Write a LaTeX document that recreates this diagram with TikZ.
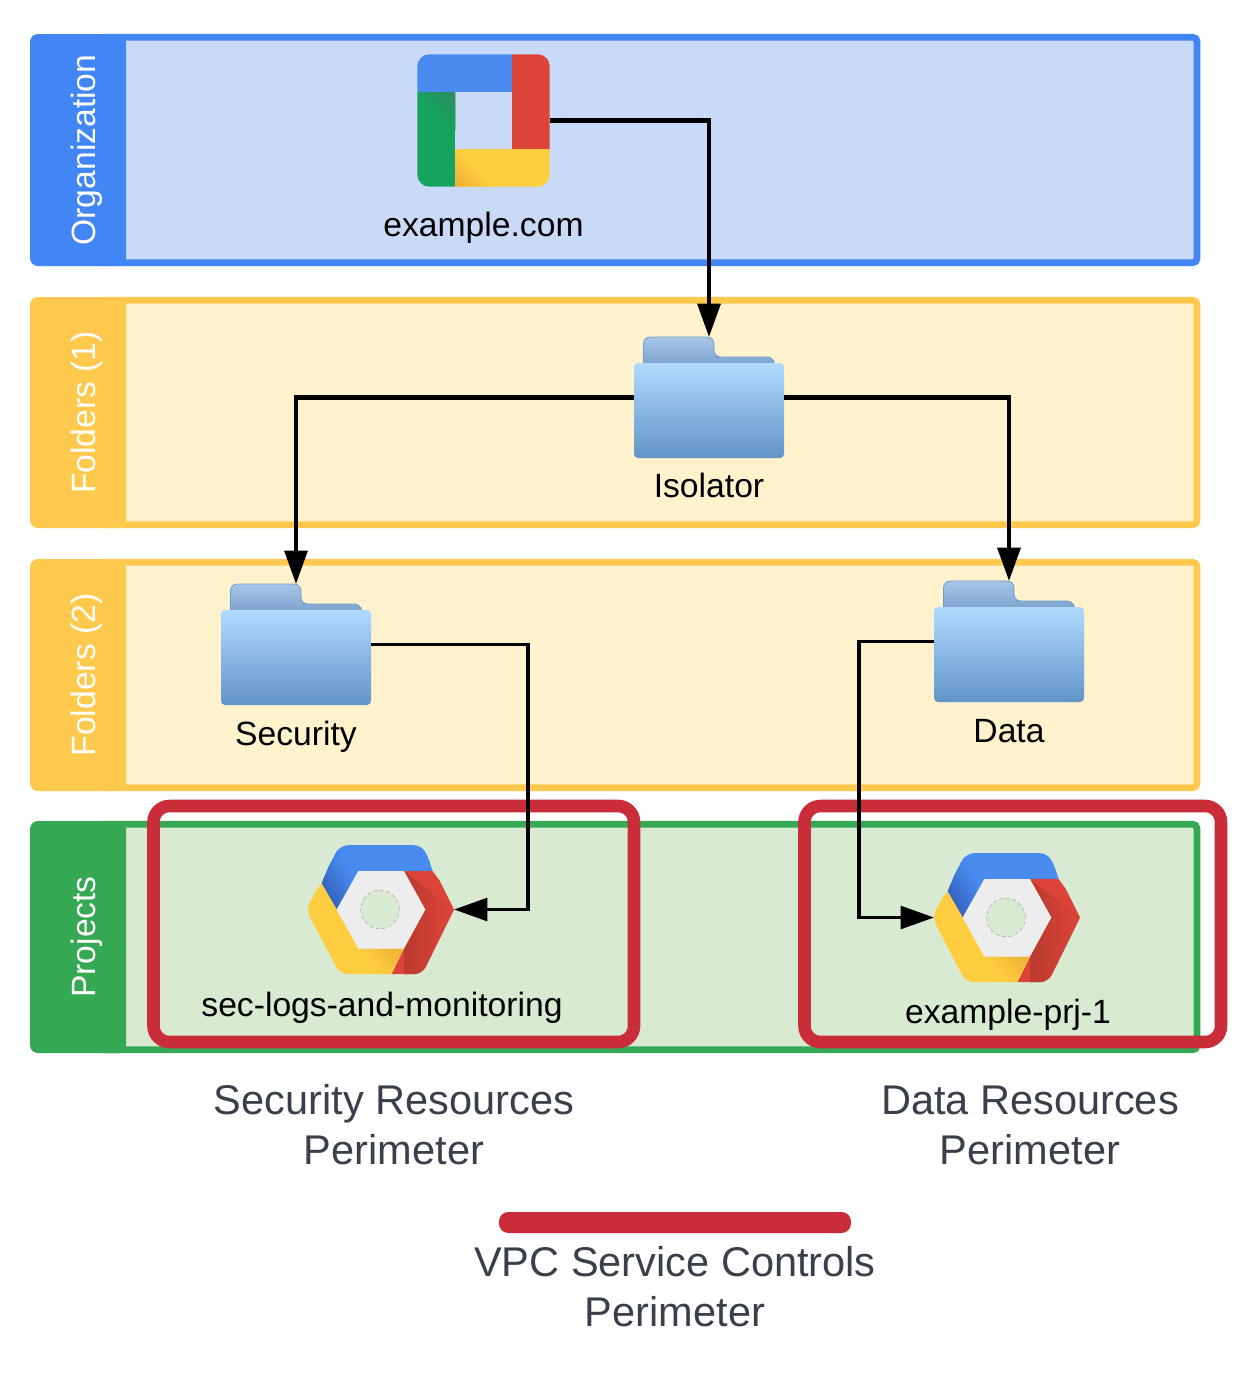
\documentclass[tikz,border=0pt]{standalone}
\usepackage{fontspec}
\setmainfont{Liberation Sans}
\usetikzlibrary{arrows.meta}
\definecolor{gblue}{HTML}{4285F4}
\definecolor{gblue2}{HTML}{4A8BF0}
\definecolor{gblued}{HTML}{3566C4}
\definecolor{gyellow}{HTML}{FFC94D}
\definecolor{ggreen}{HTML}{34A853}
\definecolor{fblue}{HTML}{C9DAF8}
\definecolor{fyellow}{HTML}{FFF2CC}
\definecolor{fgreen}{HTML}{D9EAD3}
\definecolor{perim}{HTML}{C92D39}
\definecolor{captioncol}{HTML}{3A404B}
\definecolor{ired}{HTML}{DC4437}
\definecolor{iredd}{HTML}{BC3B30}
\definecolor{igreen}{HTML}{16A25F}
\definecolor{igreend}{HTML}{2F8A5E}
\definecolor{iyellow}{HTML}{FFCD40}
\definecolor{iyellowd}{HTML}{EBAF35}
\definecolor{ftabtop}{RGB}{168,198,232}
\definecolor{ftabbot}{RGB}{122,160,205}
\definecolor{ftabline}{RGB}{110,155,205}
\definecolor{ffronttop}{RGB}{176,218,255}
\definecolor{ffrontbot}{RGB}{98,148,200}
\tikzset{
  panel/.style={line width=5pt,rounded corners=3pt},
  tag/.style={rounded corners=6pt},
  tagtext/.style={text=white,font=\fontsize{25.25}{25}\selectfont,rotate=90,anchor=base,inner sep=0pt},
  lbl/.style={text=black,font=\fontsize{25.25}{25}\selectfont,anchor=base,inner sep=0pt},
  captext/.style={text=captioncol,font=\fontsize{31.15}{37.5}\selectfont,align=center,inner sep=0pt},
  perimbox/.style={draw=perim,line width=9.4pt,rounded corners=12pt},
  link/.style={draw=black,line width=3.2pt,-{Triangle[length=25pt,width=17pt]}},
  linkthin/.style={draw=black,line width=2.8pt,-{Triangle[length=25pt,width=17pt]}},
}
% #1 clip polygon, #2 origin, #3 angle, #4 length, #5 dark colour, #6 base colour
\newcommand{\foldshade}[6]{%
  \begin{scope}
    \clip #1;
    \begin{scope}[shift={#2},rotate=#3]
      \foreach \stepi in {0,...,15}{%
        \pgfmathsetmacro{\mixp}{100-\stepi*100/16}%
        \fill[#5!\mixp!#6] ({#4*\stepi/16},-200) rectangle ({#4*(\stepi+1)/16+0.6},200);
      }
    \end{scope}
  \end{scope}
}
\newcommand{\lane}[6]{%
  \filldraw[panel,draw=#3,fill=#4] (100,#1+3.3) rectangle (1197,#2-3.3);
  \fill[tag,#3] (30,#1) rectangle (126,#2);
  \node[tagtext] (#5) at (95,{(#1+#2)/2}) {#6};
}
\newcommand{\foldericon}[3]{%
  \begin{scope}[shift={(#1,#2)}]
    \shade[top color=ftabtop,bottom color=ftabbot,draw=ftabline,line width=.6pt]
      (9.5,30) [rounded corners=5pt] -- (9.5,0) -- (80,0) -- (80,20) [sharp corners] -- (81,20) [rounded corners=5pt] -- (140,20) -- (140,30) [sharp corners] -- cycle;
    \shade[rounded corners=3pt,top color=ffronttop,bottom color=ffrontbot]
      (0,26) rectangle (150,121);
    \node[inner sep=0pt,outer sep=0pt,minimum width=112.5pt,minimum height=90.75pt] (#3) at (75,60.5) {};
  \end{scope}
}
\newcommand{\hexicon}[3]{%
  \begin{scope}[shift={(#1,#2)}]
    \begin{scope}
      \clip (73,0) [rounded corners=6pt] -- (41,64.7) -- (-41,64.7) -- (-75,0) -- (-41,-64.3) -- (41,-64.3) [sharp corners] -- cycle;
      \fill[gblue2] (-59.3,-26) -- (-41,-70) -- (41,-70) -- (51.7,-38.3) -- (-22.7,-38.3) -- (-44.3,0) -- cycle;
      \foldshade{(-59.3,-26) -- (-41,-70) -- (41,-70) -- (51.7,-38.3) -- (-22.7,-38.3) -- (-44.3,0) -- cycle}{(-59.3,-26)}{30}{30}{gblued}{gblue2}
      \fill[ired] (51.7,-38.3) -- (80,0) -- (41,70) -- (7.7,70) -- (23,39) -- (44.3,0) -- (23,-38.3) -- cycle;
      \foldshade{(23,-38.3) -- (73,0) -- (40,70) -- (4.7,70) -- (23,39) -- (44.3,0) -- cycle}{(23,0)}{0}{48}{iredd}{ired}
      \fill[iyellow] (-59.3,-26) -- (-80,0) -- (-41,70) -- (7.7,70) -- (23,39) -- (-22.7,39) -- (-44.3,0) -- cycle;
      \foldshade{(-22.7,39) -- (23,39) -- (7.7,64.7) -- (0,64.7) -- cycle}{(23,39)}{-138}{34}{iyellowd}{iyellow}
    \end{scope}
    \fill[even odd rule,black!7] (-44.3,0) -- (-22.7,-38.3) -- (23,-38.3) -- (44.3,0) -- (23,39) -- (-22.7,39) -- cycle (-1,0) circle[radius=14.5pt];
    \draw[black!35,line width=.4pt,densely dashed] (-1,0) circle[radius=14.5pt];
    \node[inner sep=0pt,outer sep=0pt,minimum width=109.5pt,minimum height=97pt] (#3) at (0,0) {};
  \end{scope}
}
\begin{document}
\begin{tikzpicture}[x=0.75pt,y=-0.75pt]
\useasboundingbox (0,0) rectangle (1253,1378);
\fill[white] (0,0) rectangle (1253,1378);

\lane{34}{266}{gblue}{fblue}{tagorg}{Organization}
\lane{297}{528}{gyellow}{fyellow}{tagfa}{Folders (1)}
\lane{559}{791}{gyellow}{fyellow}{tagfb}{Folders (2)}
\lane{821}{1053}{ggreen}{fgreen}{tagpr}{Projects}

% Organization icon
\begin{scope}
  \clip[rounded corners=9pt] (417.3,54.3) rectangle (549.7,186.7);
  \fill[igreen] (417,92.3) rectangle (455.3,187);
  \foldshade{(417.3,92.3) -- (455.3,92.3) -- (455.3,130.3) -- cycle}{(455.3,92.3)}{-135}{27}{igreend}{igreen}
  \fill[iyellow] (455.3,148.7) rectangle (550,187);
  \foldshade{(455.3,148.7) -- (455.3,187) -- (493.6,187) -- cycle}{(455.3,187)}{45}{27}{iyellowd}{iyellow}
  \fill[ired] (511.7,54) rectangle (550,148.7);
  \fill[gblue2] (417,54) rectangle (511.7,92.3);
\end{scope}
\node[inner sep=0pt,outer sep=0pt,minimum width=99.3pt,minimum height=99.3pt] (org) at (483.5,120.5) {};

\foldericon{634}{337}{iso}
\foldericon{221}{584}{secf}
\foldericon{934}{581}{dataf}
\hexicon{381}{909.5}{sechex}
\hexicon{1007}{917.5}{datahex}

\node[lbl] (lorg) at (483.5,236) {example.com};
\node[lbl] (liso) at (709,497) {Isolator};
\node[lbl] (lsec) at (296,745) {Security};
\node[lbl] (ldata) at (1009,742) {Data};
\node[lbl] (lsh) at (382,1016) {sec-logs-and-monitoring};
\node[lbl] (ldh) at (1008,1023) {example-prj-1};

\draw[perimbox] (153.5,806) rectangle (634,1042);
\draw[perimbox] (804.5,806) rectangle (1221,1042);

\coordinate (c1) at (528,780);
\coordinate (c2) at (859,780);
\draw[link] (org.east) -| (iso.north);
\draw[link] (iso.west) -| (secf.north);
\draw[link] (iso.east) -| (dataf.north);
\draw[linkthin] (secf.east) -| (c1) |- (sechex.east);
\draw[linkthin] (dataf.west) -| (c2) |- (datahex.west);

\node[captext] (c3) at (394,1125) {Security Resources\\Perimeter};
\node[captext] (c4) at (1030,1125) {Data Resources\\Perimeter};
\fill[perim,rounded corners=7pt] (499,1212) rectangle (851,1233);
\node[captext] (c5) at (675,1287) {VPC Service Controls\\Perimeter};
\end{tikzpicture}
\end{document}
